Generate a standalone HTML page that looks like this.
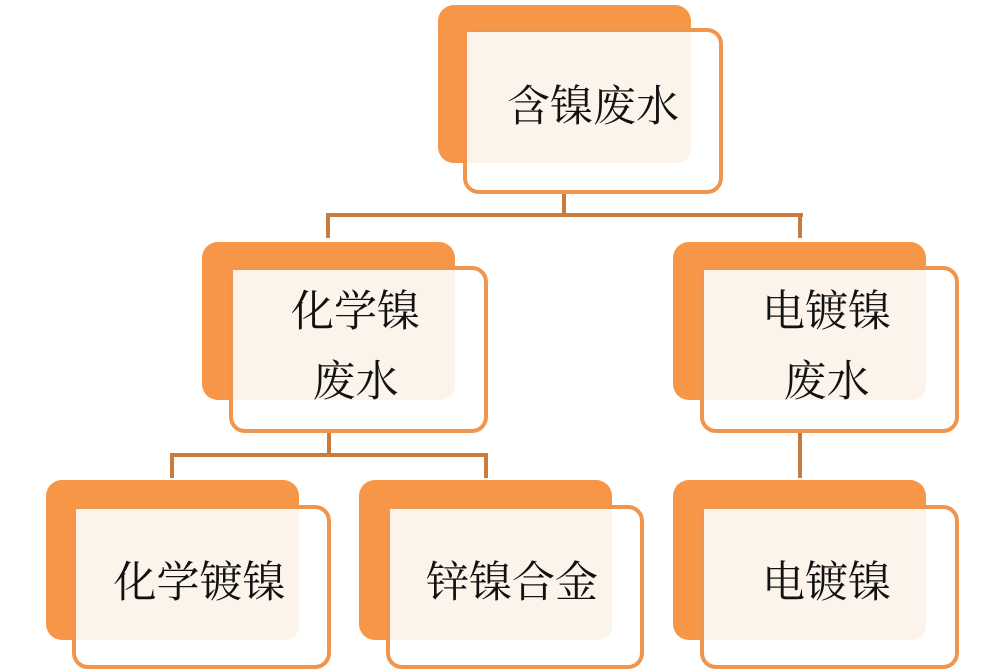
<!DOCTYPE html>
<html><head><meta charset="utf-8"><style>
body{margin:0;width:1000px;height:671px;background:#fff;position:relative;overflow:hidden;font-family:"Liberation Serif","Noto Serif CJK SC",serif}
.b{position:absolute;background:#f79646;border-radius:16px}
.f{position:absolute;border:4px solid #f0954e;border-radius:16px;background:#fff;box-sizing:border-box}
.c{position:absolute;background:#fcf3eb;border-radius:0 0 14px 0}
.t{position:absolute;font-size:43px;color:#111;text-align:center;line-height:70px;white-space:nowrap}
.l{position:absolute;background:#c97a3c}
</style></head><body>
<div class="l" style="left:562px;top:190px;width:4px;height:27px"></div>
<div class="l" style="left:326px;top:213px;width:477px;height:4px"></div>
<div class="l" style="left:326px;top:213px;width:4px;height:25px"></div>
<div class="l" style="left:798px;top:213px;width:4px;height:25px"></div>
<div class="l" style="left:327px;top:430px;width:4px;height:27px"></div>
<div class="l" style="left:170px;top:453px;width:318px;height:4px"></div>
<div class="l" style="left:170px;top:453px;width:4px;height:25px"></div>
<div class="l" style="left:484px;top:453px;width:4px;height:25px"></div>
<div class="l" style="left:798px;top:430px;width:4px;height:48px"></div>

<div class="b" style="left:438px;top:5px;width:253px;height:158px"></div>
<div class="f" style="left:463px;top:28px;width:260px;height:166px"></div>
<div class="c" style="left:467px;top:32px;width:224px;height:131px"></div>
<div class="t" style="left:463px;top:73px;width:260px">含镍废水</div>

<div class="b" style="left:202px;top:242px;width:253px;height:158px"></div>
<div class="f" style="left:229px;top:266px;width:259px;height:167px"></div>
<div class="c" style="left:233px;top:270px;width:222px;height:130px"></div>
<div class="t" style="left:226px;top:278px;width:259px;line-height:70px">化学镍<br>废水</div>

<div class="b" style="left:673px;top:242px;width:253px;height:158px"></div>
<div class="f" style="left:700px;top:266px;width:259px;height:167px"></div>
<div class="c" style="left:704px;top:270px;width:222px;height:130px"></div>
<div class="t" style="left:697px;top:278px;width:259px;line-height:70px">电镀镍<br>废水</div>

<div class="b" style="left:46px;top:480px;width:253px;height:160px"></div>
<div class="f" style="left:72px;top:505px;width:259px;height:164px"></div>
<div class="c" style="left:76px;top:509px;width:223px;height:131px"></div>
<div class="t" style="left:70px;top:549px;width:259px">化学镀镍</div>

<div class="b" style="left:359px;top:480px;width:253px;height:160px"></div>
<div class="f" style="left:386px;top:505px;width:258px;height:164px"></div>
<div class="c" style="left:390px;top:509px;width:222px;height:131px"></div>
<div class="t" style="left:383px;top:549px;width:258px">锌镍合金</div>

<div class="b" style="left:673px;top:480px;width:253px;height:160px"></div>
<div class="f" style="left:700px;top:505px;width:259px;height:164px"></div>
<div class="c" style="left:704px;top:509px;width:222px;height:131px"></div>
<div class="t" style="left:697px;top:549px;width:259px">电镀镍</div>
</body></html>
